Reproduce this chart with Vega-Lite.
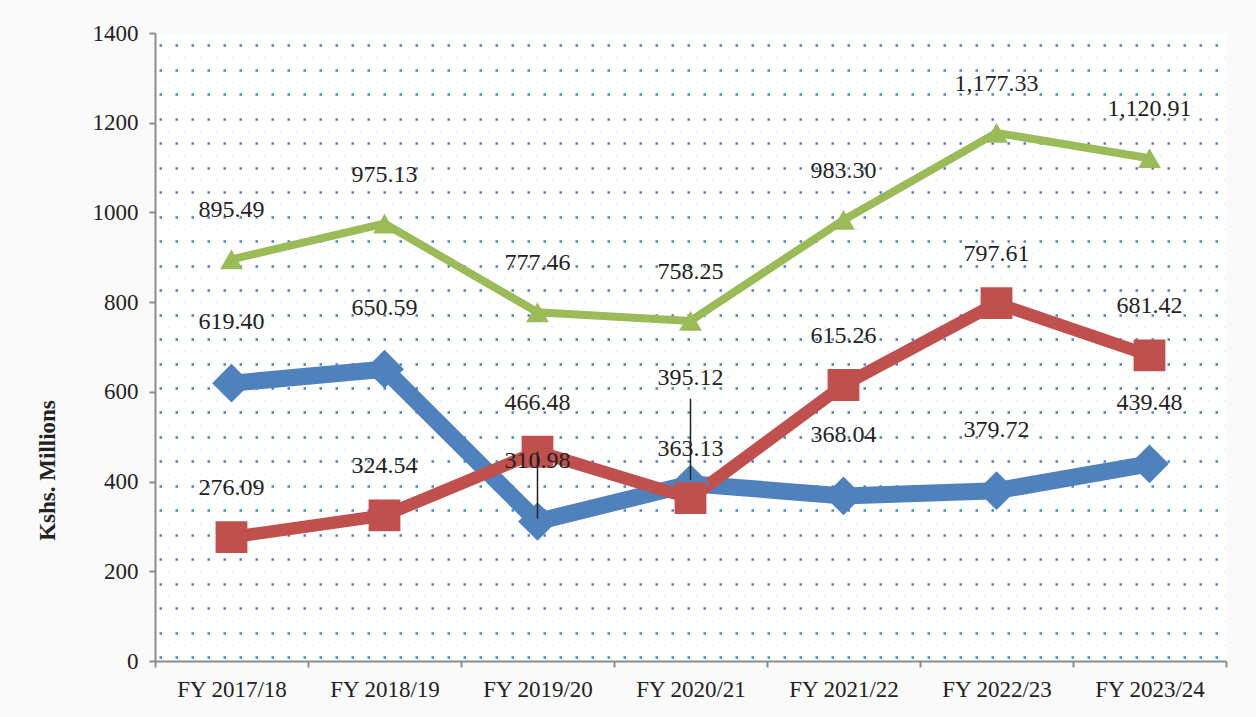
{
  "$schema": "https://vega.github.io/schema/vega-lite/v6.json",
  "width": 1071,
  "height": 628,
  "autosize": {"type": "none"},
  "padding": {"left": 155, "top": 33, "right": 30, "bottom": 56},
  "background": "#fafafa",
  "config": {
    "view": {"fill": "#ffffff", "stroke": null},
    "font": "Liberation Serif",
    "text": {"font": "Liberation Serif"},
    "mark": {"font": "Liberation Serif"}
  },
  "data": {
    "values": [
      {"year": "FY 2017/18", "series": "Series 1", "value": 619.40},
      {"year": "FY 2018/19", "series": "Series 1", "value": 650.59},
      {"year": "FY 2019/20", "series": "Series 1", "value": 310.98},
      {"year": "FY 2020/21", "series": "Series 1", "value": 395.12},
      {"year": "FY 2021/22", "series": "Series 1", "value": 368.04},
      {"year": "FY 2022/23", "series": "Series 1", "value": 379.72},
      {"year": "FY 2023/24", "series": "Series 1", "value": 439.48},
      {"year": "FY 2017/18", "series": "Series 2", "value": 276.09},
      {"year": "FY 2018/19", "series": "Series 2", "value": 324.54},
      {"year": "FY 2019/20", "series": "Series 2", "value": 466.48},
      {"year": "FY 2020/21", "series": "Series 2", "value": 363.13},
      {"year": "FY 2021/22", "series": "Series 2", "value": 615.26},
      {"year": "FY 2022/23", "series": "Series 2", "value": 797.61},
      {"year": "FY 2023/24", "series": "Series 2", "value": 681.42},
      {"year": "FY 2017/18", "series": "Series 3", "value": 895.49},
      {"year": "FY 2018/19", "series": "Series 3", "value": 975.13},
      {"year": "FY 2019/20", "series": "Series 3", "value": 777.46},
      {"year": "FY 2020/21", "series": "Series 3", "value": 758.25},
      {"year": "FY 2021/22", "series": "Series 3", "value": 983.30},
      {"year": "FY 2022/23", "series": "Series 3", "value": 1177.33},
      {"year": "FY 2023/24", "series": "Series 3", "value": 1120.91}
    ]
  },
  "encoding": {
    "x": {
      "field": "year",
      "type": "nominal",
      "sort": null,
      "scale": {"type": "band", "paddingInner": 0, "paddingOuter": 0},
      "axis": {
        "orient": "bottom",
        "tickBand": "extent",
        "domainColor": "#8c8c8c",
        "domainWidth": 2,
        "tickColor": "#8c8c8c",
        "tickWidth": 2,
        "tickSize": 6,
        "labelFont": "Liberation Serif",
        "labelFontSize": 23,
        "labelColor": "#222222",
        "labelPadding": 11,
        "labelAngle": 0,
        "title": null
      }
    },
    "y": {
      "field": "value",
      "type": "quantitative",
      "scale": {"domain": [0, 1400], "nice": false, "zero": true},
      "axis": null
    }
  },
  "resolve": {"axis": {"y": "independent"}},
  "layer": [
    {
      "mark": {"type": "point", "opacity": 0},
      "encoding": {
        "y": {
          "field": "value",
          "type": "quantitative",
          "scale": {"domain": [0, 1400], "nice": false, "zero": true},
          "axis": {
            "orient": "left",
            "values": [1373, 1318.4, 1263.8, 1209.2, 1154.6, 1100, 1045.4, 990.8, 936.2, 881.6, 827, 772.4, 717.8, 663.2, 608.6, 554, 499.4, 444.8, 390.2, 335.6, 281, 226.4, 171.8, 117.2, 62.6, 8],
            "grid": true,
            "gridColor": "#3f74bb",
            "gridWidth": 2.5,
            "gridDash": [2.5, 13.5],
            "gridDashOffset": 12,
            "gridOpacity": 0.9,
            "labels": false,
            "ticks": false,
            "domain": false,
            "title": null
          }
        }
      }
    },
    {
      "mark": {"type": "point", "opacity": 0},
      "encoding": {
        "y": {
          "field": "value",
          "type": "quantitative",
          "scale": {"domain": [0, 1400], "nice": false, "zero": true},
          "axis": {
            "orient": "left",
            "values": [1345.7, 1291.1, 1236.5, 1181.9, 1127.3, 1072.7, 1018.1, 963.5, 908.9, 854.3, 799.7, 745.1, 690.5, 635.9, 581.3, 526.7, 472.1, 417.5, 362.9, 308.3, 253.7, 199.1, 144.5, 89.9, 35.3],
            "grid": true,
            "gridColor": "#b4c7e3",
            "gridWidth": 1.5,
            "gridDash": [1.5, 14.5],
            "gridDashOffset": 4,
            "gridOpacity": 0.5,
            "labels": false,
            "ticks": false,
            "domain": false,
            "title": null
          }
        }
      }
    },
    {
      "mark": {"type": "line", "strokeCap": "butt", "strokeJoin": "miter"},
      "encoding": {
        "y": {
          "field": "value",
          "type": "quantitative",
          "scale": {"domain": [0, 1400], "nice": false, "zero": true},
          "axis": {
            "orient": "left",
            "values": [0, 200, 400, 600, 800, 1000, 1200, 1400],
            "format": "d",
            "grid": false,
            "domainColor": "#8c8c8c",
            "domainWidth": 2,
            "tickColor": "#8c8c8c",
            "tickWidth": 2,
            "tickSize": 6,
            "labelFont": "Liberation Serif",
            "labelFontSize": 23,
            "labelColor": "#222222",
            "labelPadding": 11,
            "title": "Kshs. Millions",
            "titleFont": "Liberation Serif",
            "titleFontWeight": "bold",
            "titleFontSize": 23,
            "titleColor": "#222222",
            "titleAngle": -90,
            "titleAlign": "center",
            "titleBaseline": "middle",
            "titleX": -108,
            "titleY": 437
          }
        },
        "color": {
          "field": "series",
          "type": "nominal",
          "scale": {"domain": ["Series 1", "Series 2", "Series 3"], "range": ["#4f81bd", "#c0504d", "#9bbb59"]},
          "legend": null
        },
        "strokeWidth": {
          "field": "series",
          "type": "nominal",
          "scale": {"domain": ["Series 1", "Series 2", "Series 3"], "range": [17, 8, 8]},
          "legend": null
        }
      }
    },
    {
      "mark": {"type": "point", "filled": true, "opacity": 1},
      "encoding": {
        "color": {
          "field": "series",
          "type": "nominal",
          "scale": {"domain": ["Series 1", "Series 2", "Series 3"], "range": ["#4f81bd", "#c0504d", "#9bbb59"]},
          "legend": null
        },
        "shape": {
          "field": "series",
          "type": "nominal",
          "scale": {"domain": ["Series 1", "Series 2", "Series 3"], "range": ["diamond", "square", "triangle-up"]},
          "legend": null
        },
        "size": {
          "field": "series",
          "type": "nominal",
          "scale": {"domain": ["Series 1", "Series 2", "Series 3"], "range": [1500, 520, 850]},
          "legend": null
        }
      }
    },
    {
      "transform": [{"filter": "datum.series == 'Series 1' && datum.year == 'FY 2019/20'"}],
      "mark": {"type": "rule", "color": "#222222", "strokeWidth": 1.5, "yOffset": -3, "y2Offset": -70},
      "encoding": {"y2": {"field": "value"}}
    },
    {
      "transform": [{"filter": "datum.series == 'Series 1' && datum.year == 'FY 2020/21'"}],
      "mark": {"type": "rule", "color": "#222222", "strokeWidth": 1.5, "yOffset": -4, "y2Offset": -85},
      "encoding": {"y2": {"field": "value"}}
    },
    {
      "transform": [{"filter": "datum.series == 'Series 1' && datum.year != 'FY 2020/21'"}],
      "mark": {"type": "text", "dy": -61, "fontSize": 24, "font": "Liberation Serif", "color": "#222222"},
      "encoding": {"text": {"field": "value", "type": "quantitative", "format": ",.2f"}}
    },
    {
      "transform": [{"filter": "datum.series == 'Series 1' && datum.year == 'FY 2020/21'"}],
      "mark": {"type": "text", "dy": -106, "fontSize": 24, "font": "Liberation Serif", "color": "#222222"},
      "encoding": {"text": {"field": "value", "type": "quantitative", "format": ",.2f"}}
    },
    {
      "transform": [{"filter": "datum.series != 'Series 1'"}],
      "mark": {"type": "text", "dy": -49, "fontSize": 24, "font": "Liberation Serif", "color": "#222222"},
      "encoding": {"text": {"field": "value", "type": "quantitative", "format": ",.2f"}}
    }
  ]
}
